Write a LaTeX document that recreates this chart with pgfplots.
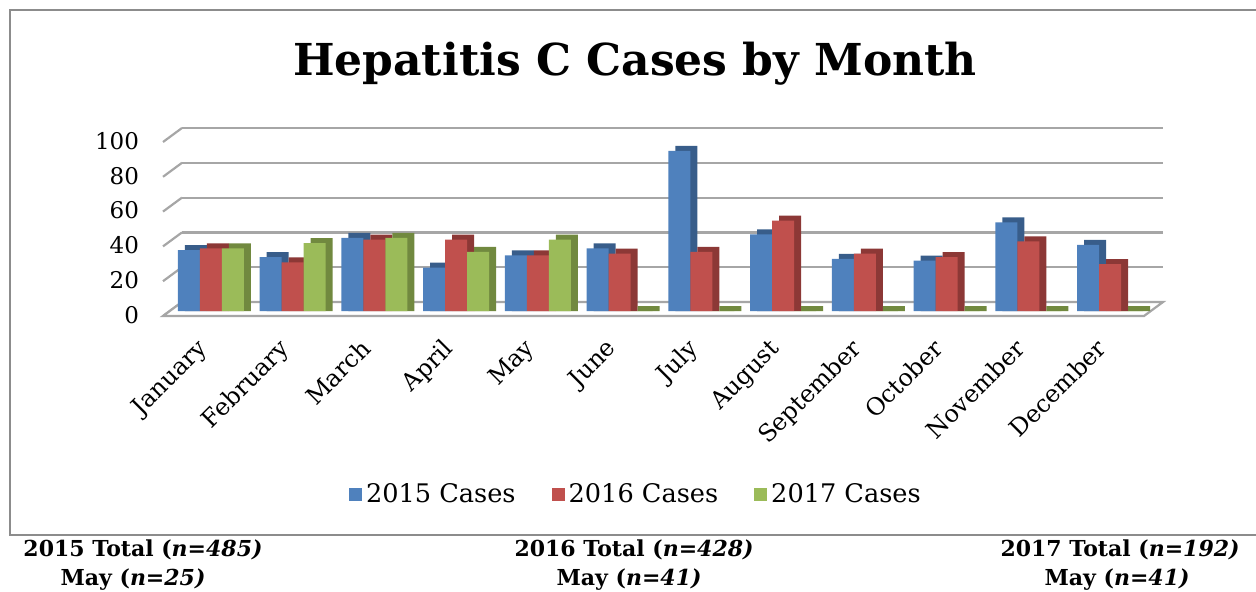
\documentclass[border=0pt]{standalone}
\usepackage{pgfplots}
\usepackage{pgfplotstable}
\pgfplotsset{compat=1.18}
\usepackage{fontspec}
\setmainfont{DejaVu Serif}
\definecolor{cblue}{HTML}{4F81BD}
\definecolor{cred}{HTML}{C0504D}
\definecolor{cgreen}{HTML}{9BBB59}
\definecolor{dblue}{HTML}{385D8A}
\definecolor{dred}{HTML}{8C3836}
\definecolor{dgreen}{HTML}{71893F}
\definecolor{gridg}{HTML}{A6A6A6}
\definecolor{frameg}{HTML}{8C8C8C}
\pgfplotstableread{
x a b c
0 35 36 36
1 31 28 39
2 42 41 42
3 25 41 34
4 32 32 41
5 36 33 0
6 92 34 0
7 44 52 0
8 30 33 0
9 29 31 0
10 51 40 0
11 38 27 0
}\data
\begin{document}
\begin{tikzpicture}
\useasboundingbox (0,0) rectangle (628pt,-296pt);
\clip (0,0) rectangle (628pt,-296pt);
\draw[frameg, line width=1pt] (5pt,-5pt) rectangle (640pt,-267.5pt);
\node[anchor=base, font=\fontsize{22}{24}\selectfont\bfseries] at (317.5pt,-38pt) {Hepatitis C Cases by Month};
\begin{axis}[
  at={(85pt,-155.5pt)}, anchor=south west,
  scale only axis, width=490.5pt, height=87pt,
  xmin=-0.5, xmax=11.5, ymin=0, ymax=100,
  enlargelimits=false, clip=false,
  ybar, bar width=11pt,
  axis line style={draw=none}, tick style={draw=none},
  major tick length=0pt,
  ytick={0,20,...,100},
  /pgf/number format/assume math mode=true,
  yticklabel style={font=\fontsize{11.5}{13}\selectfont, anchor=east, xshift=-12pt, yshift=-2pt},
  xtick={0,...,11},
  xticklabels={January,February,March,April,May,June,July,August,September,October,November,December},
  xticklabel style={font=\fontsize{12}{14}\selectfont, xshift=-7.5pt, yshift=-8.25pt, rotate=45, anchor=north east},
  legend style={draw=none, fill=none, legend columns=3,
    font=\fontsize{12.8}{14}\selectfont,
    /tikz/every even column/.append style={column sep=16pt},
    at={(0.476,-1.052)}, anchor=center},
  legend image code/.code={\fill[#1] (0pt,-3.25pt) rectangle (6.5pt,3.25pt);},
]
% back wall grid lines and left wall diagonals
\pgfplotsinvokeforeach{20,40,60,80,100}{
  \draw[gridg, line width=1.1pt] ([xshift=6pt,yshift=4.5pt]axis cs:-0.5,#1) -- ([xshift=6pt,yshift=4.5pt]axis cs:11.5,#1);
}
\pgfplotsinvokeforeach{0,20,40,60,80,100}{
  \draw[gridg, line width=1.1pt] ([xshift=-3.5pt,yshift=-2.5pt]axis cs:-0.5,#1) -- ([xshift=6pt,yshift=4.5pt]axis cs:-0.5,#1);
}
% floor
\draw[gridg, line width=1.1pt, fill=white] ([xshift=-3.5pt,yshift=-2.5pt]axis cs:-0.5,0) -- ([xshift=-3.5pt,yshift=-2.5pt]axis cs:11.5,0) -- ([xshift=6pt,yshift=4.5pt]axis cs:11.5,0) -- ([xshift=6pt,yshift=4.5pt]axis cs:-0.5,0) -- cycle;
% 2015
\addplot[forget plot, draw=none, fill=dblue, bar shift=-7.5pt] table[x=x, y expr=\thisrow{a}+2.87] {\data};
\addplot[draw=none, fill=cblue, bar shift=-11pt] table[x=x, y=a] {\data};
\addlegendentry{2015 Cases}
% 2016
\addplot[forget plot, draw=none, fill=dred, bar shift=3.5pt] table[x=x, y expr=\thisrow{b}+2.87] {\data};
\addplot[draw=none, fill=cred, bar shift=0pt] table[x=x, y=b] {\data};
\addlegendentry{2016 Cases}
% 2017
\addplot[forget plot, draw=none, fill=dgreen, bar shift=14.5pt] table[x=x, y expr=\thisrow{c}+2.87] {\data};
\addplot[draw=none, fill=cgreen, bar shift=11pt] table[x=x, y=c] {\data};
\addlegendentry{2017 Cases}
\end{axis}
\begin{scope}[font=\fontsize{11}{13}\selectfont\bfseries]
\node[anchor=base] at (71.5pt,-278pt) {2015 Total (\textit{n=485)}};
\node[anchor=base] at (66.5pt,-292.5pt) {May (\textit{n=25)}};
\node[anchor=base] at (317pt,-278pt) {2016 Total (\textit{n=428)}};
\node[anchor=base] at (314.5pt,-292.5pt) {May (\textit{n=41)}};
\node[anchor=base] at (560pt,-278pt) {2017 Total (\textit{n=192)}};
\node[anchor=base] at (558.5pt,-292.5pt) {May (\textit{n=41)}};
\end{scope}
\end{tikzpicture}
\end{document}
